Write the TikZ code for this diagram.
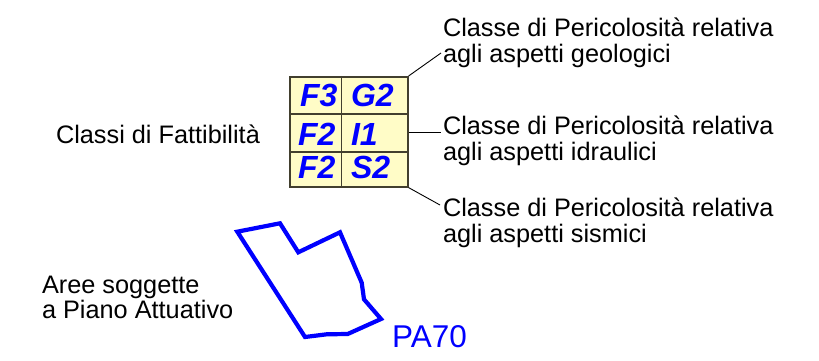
\documentclass[tikz,border=0pt]{standalone}
\usepackage{fontspec}
\setmainfont{Liberation Sans}
\begin{document}
\begin{tikzpicture}[x=1pt,y=-1pt,
  txt/.style={anchor=base west,inner sep=0pt,outer sep=0pt,font=\fontsize{25.3}{26}\selectfont},
  cell/.style={anchor=base west,inner sep=0pt,outer sep=0pt,text=blue,font=\fontsize{32}{32}\selectfont\bfseries\itshape},
  grid/.style={draw=black!70!olive,line width=1.6pt},
  leader/.style={draw=black,line width=0.9pt},
  area/.style={draw=blue,line width=4.2pt,line join=miter}]
\useasboundingbox (0,0) rectangle (819,361);
% table
\node[grid,fill=yellow!22,minimum width=118pt,minimum height=110pt,inner sep=0pt,anchor=north west] (tab) at (289,76) {};
\draw[grid] (289,114) -- (407,114);
\draw[grid] (289,152) -- (407,152);
\draw[grid] (341.5,76) -- (341.5,186);
\node[cell] (f3) at (300,106) {F3};
\node[cell] (g2) at (351,106) {G2};
\node[cell] (f2a) at (298,145) {F2};
\node[cell] (i1) at (351,145) {I1};
\node[cell] (f2b) at (298,178) {F2};
\node[cell] (s2) at (351,178) {S2};
% right labels
\node[txt] (g1) at (443,37) {Classe di Pericolosità relativa};
\node[txt] (g2t) at (443,63) {agli aspetti geologici};
\node[txt] (h1) at (443,134) {Classe di Pericolosità relativa};
\node[txt] (h2) at (443,160) {agli aspetti idraulici};
\node[txt] (s1) at (443,216) {Classe di Pericolosità relativa};
\node[txt] (s2t) at (443,242) {agli aspetti sismici};
\coordinate (eg) at (441,53);
\coordinate (eh) at (441,132);
\coordinate (es) at (440,205);
\draw[leader] (tab.north east) -- (eg);
\draw[leader] (tab.north east |- eh) -- (eh);
\draw[leader] (tab.south east) -- (es);
% left labels
\node[txt] (cf) at (56,143) {Classi di Fattibilità};
\node[txt] (a1) at (42,293) {Aree soggette};
\node[txt] (a2) at (42,318.5) {a Piano Attuativo};
% area
\draw[area] (237.3,231.7) -- (280,223.3) -- (298.3,252.3) -- (340,232.3) -- (361.7,282.7) -- (364,299.3) -- (381,319) -- (347.7,334) -- (326.7,334.3) -- (305,337) -- cycle;
\node[anchor=base west,inner sep=0pt,text=blue,font=\fontsize{31.5}{32}\selectfont] (pa) at (392,347) {PA70};
\end{tikzpicture}
\end{document}
